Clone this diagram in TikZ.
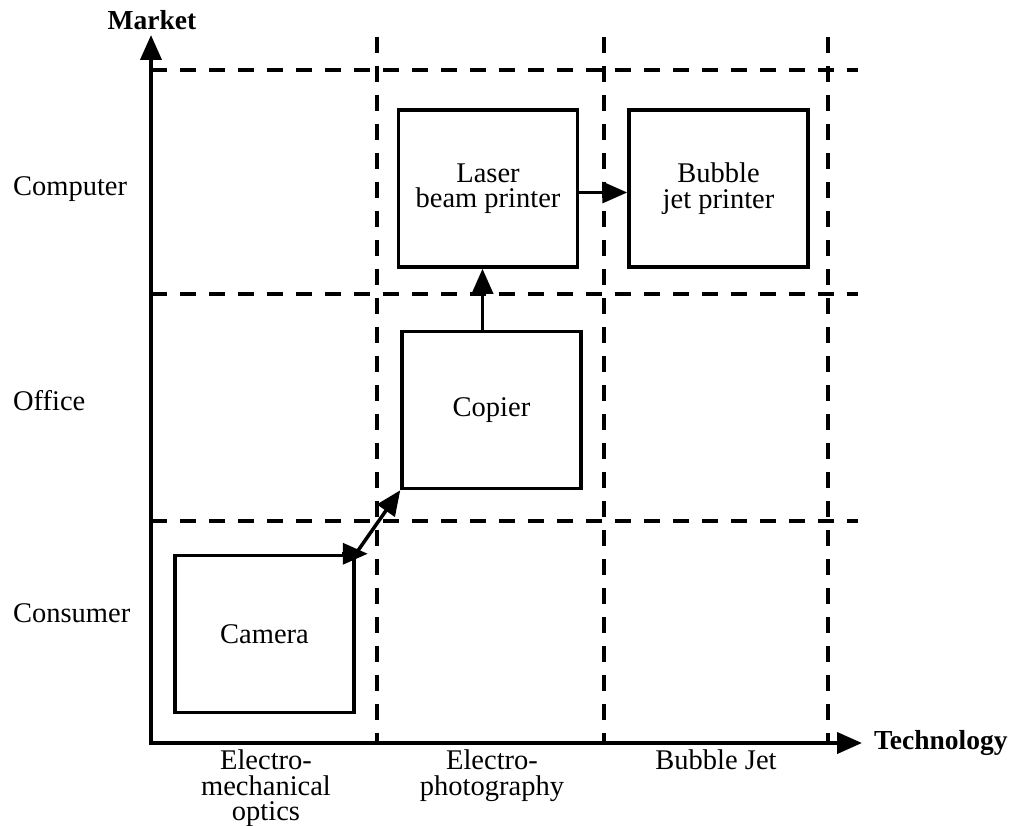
\documentclass[tikz,border=0pt]{standalone}
\usepackage{fontspec}
\setmainfont{Liberation Serif}
\usetikzlibrary{arrows.meta, positioning, calc}

\tikzset{
  txt/.style={font=\fontsize{28.5}{25.5}\selectfont},
  axislabel/.style={font=\bfseries\fontsize{27.5}{25.5}\selectfont},
  grid/.style={dash pattern=on 16pt off 13pt, line width=4pt},
  stage/.style={draw, txt, line width=3.5pt, minimum width=179pt, minimum height=157pt, align=center, inner sep=0pt}
}

\begin{document}
\begin{tikzpicture}[x=1pt, y=-1pt, >={Triangle[length=25pt, width=21pt]}, line width=3.5pt]
    \useasboundingbox (0,0) rectangle (1011,826);

    % Dashed grid
    \foreach \gx in {377,604,828}
        \draw[grid] (\gx,37) -- (\gx,743);
    \foreach \gy in {70,294,521}
        \draw[grid] (151,\gy) -- (858,\gy);

    % Axes
    \coordinate (ytip) at (151,35);
    \coordinate (xtip) at (862,743);
    \draw[<->, line width=4pt] (ytip) |- (xtip);
    \node[axislabel] (market) at (152,20) {Market};
    \node[axislabel, anchor=west] (tech) at (869,743) {Technology};

    % Markets
    \node[txt, anchor=west] (computer) at (8,189) {Computer};
    \node[txt, anchor=west] (office) at (8,401) {Office};
    \node[txt, anchor=west] (consumer) at (8,613) {Consumer};

    % Technologies
    \node[txt, anchor=north, align=center] (emo) at (266,745) {Electro-\\mechanical\\optics};
    \node[txt, anchor=north, align=center] (ep) at (492,745) {Electro-\\photography};
    \node[txt, anchor=north] (bj) at (716,745) {Bubble Jet};

    % Products
    \node[stage] (camera) at (264.5,634) {Camera};
    \node[stage] (copier) at (491.5,410) {Copier};
    \node[stage] (laser) at (488,188.5) {Laser\\beam printer};
    \node[stage, right=48pt of laser] (bubble) {Bubble\\jet printer};

    % Evolution
    \draw[->] ([xshift=-14pt]camera.north east) -- ([xshift=12pt]camera.north east);
    \draw[->] (camera.north east) -- (copier.south west);
    \draw[->] ([xshift=-9pt]copier.north) -- ([xshift=-9pt]copier.north |- laser.south);
    \draw[->] ([yshift=-4pt]laser.east) -- ([yshift=-4pt]bubble.west);
\end{tikzpicture}
\end{document}
